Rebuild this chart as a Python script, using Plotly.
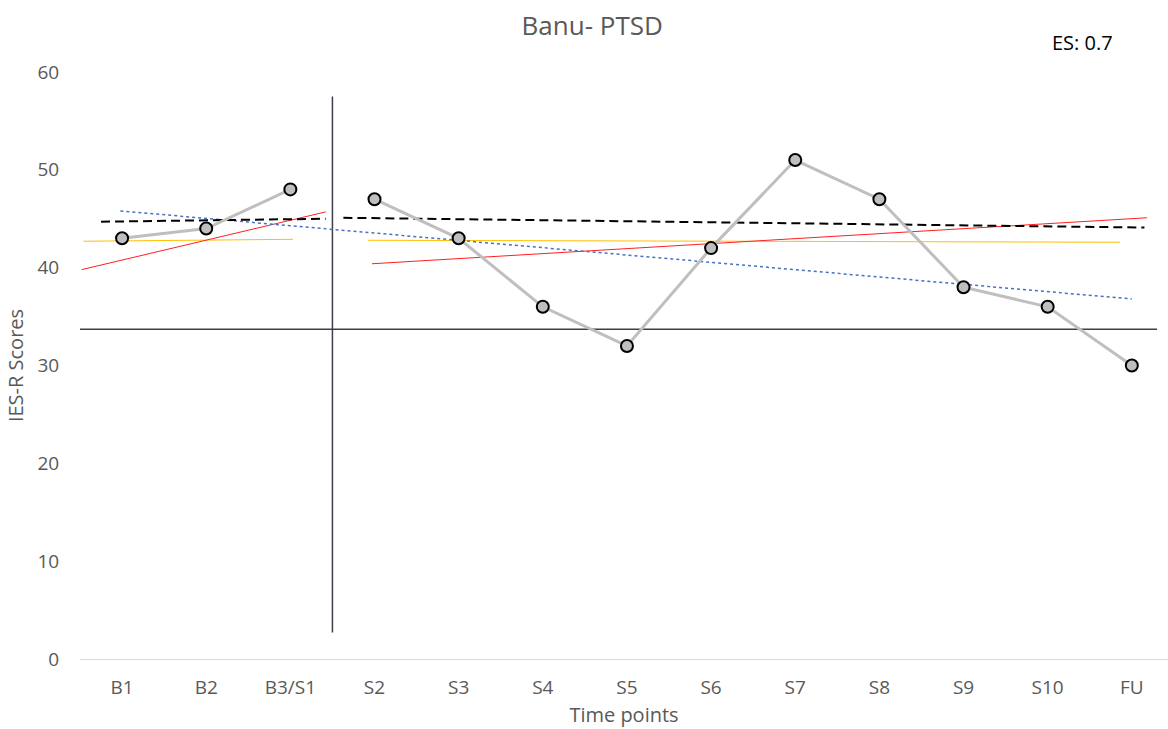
import plotly.graph_objects as go

categories = ["B1", "B2", "B3/S1", "S2", "S3", "S4", "S5", "S6", "S7", "S8", "S9", "S10", "FU"]
scores = [43, 44, 48, 47, 43, 36, 32, 42, 51, 47, 38, 36, 30]
y_ticks = [0, 10, 20, 30, 40, 50, 60]

# phase split: baseline = first 3 points, treatment = rest
n_base = 3
x_idx = list(range(len(categories)))

# reference / trend lines (x in category index units, y in score units)
phase_line_x = [2.5, 2.5]
phase_line_y = [2.7, 57.5]
criterion_x = [-0.5, 12.3]
criterion_y = [33.7, 33.7]
mean_base_x = [-0.25, 2.42]
mean_base_y = [44.7, 45.0]
mean_treat_x = [2.63, 12.15]
mean_treat_y = [45.1, 44.1]
median_base_x = [-0.46, 2.03]
median_base_y = [42.7, 42.9]
median_treat_x = [2.92, 11.86]
median_treat_y = [42.8, 42.6]
trend_base_x = [-0.48, 2.42]
trend_base_y = [39.8, 45.7]
trend_treat_x = [2.97, 12.18]
trend_treat_y = [40.4, 45.1]
trend_all_x = [-0.02, 12.0]
trend_all_y = [45.8, 36.8]

FONT = "Open Sans"
GRAY = "#595959"

fig = go.Figure()

def seg(x, y, color, width, dash="solid"):
    fig.add_trace(go.Scatter(x=x, y=y, mode="lines",
                             line=dict(color=color, width=width, dash=dash),
                             hoverinfo="skip", showlegend=False))

seg(phase_line_x, phase_line_y, "#3b3f4a", 1.5)
seg(criterion_x, criterion_y, "#3b3f4a", 1.5)
seg(median_base_x, median_base_y, "#ffc000", 1)
seg(median_treat_x, median_treat_y, "#ffc000", 1)
seg(trend_base_x, trend_base_y, "#ff2020", 1)
seg(trend_treat_x, trend_treat_y, "#ff2020", 1)
seg(trend_all_x, trend_all_y, "#4472c4", 1.5, "dot")
seg(mean_base_x, mean_base_y, "#000000", 2, "9px,5px")
seg(mean_treat_x, mean_treat_y, "#000000", 2, "9px,5px")

marker = dict(size=12, color="#bfbfbf", line=dict(color="#000000", width=2))
fig.add_trace(go.Scatter(x=x_idx[:n_base], y=scores[:n_base], mode="lines+markers",
                         line=dict(color="#bfbfbf", width=3), marker=marker, showlegend=False))
fig.add_trace(go.Scatter(x=x_idx[n_base:], y=scores[n_base:], mode="lines+markers",
                         line=dict(color="#bfbfbf", width=3), marker=marker, showlegend=False))

fig.update_layout(
    width=1168, height=729,
    margin=dict(l=80, r=0, t=72, b=70),
    paper_bgcolor="white", plot_bgcolor="white",
    font=dict(family=FONT, color=GRAY, size=19),
    title=dict(text="Banu- PTSD", x=0.507, xanchor="center", y=0.965, yanchor="middle",
               font=dict(family=FONT, size=26, color=GRAY)),
    xaxis=dict(range=[-0.5, 12.43], tickmode="array", tickvals=x_idx, ticktext=categories,
               showgrid=False, zeroline=False, showline=True, linecolor="#d9d9d9", linewidth=1,
               ticks="outside", ticklen=11, tickcolor="rgba(0,0,0,0)",
               tickfont=dict(size=19, color=GRAY),
               title=dict(text="Time points", font=dict(size=20, color=GRAY), standoff=9)),
    yaxis=dict(range=[0, 60], tickmode="array", tickvals=y_ticks,
               showgrid=False, zeroline=False, showline=False,
               ticks="outside", ticklen=16, tickcolor="rgba(0,0,0,0)",
               tickfont=dict(size=19, color=GRAY),
               title=dict(text="IES-R Scores", font=dict(size=20, color=GRAY), standoff=8)),
    annotations=[dict(text="ES: 0.7", xref="paper", yref="paper", x=0.921, y=1.05,
                      xanchor="center", yanchor="middle", showarrow=False,
                      font=dict(family=FONT, size=20, color="#000000"))],
)

fig.write_html("out.html")
